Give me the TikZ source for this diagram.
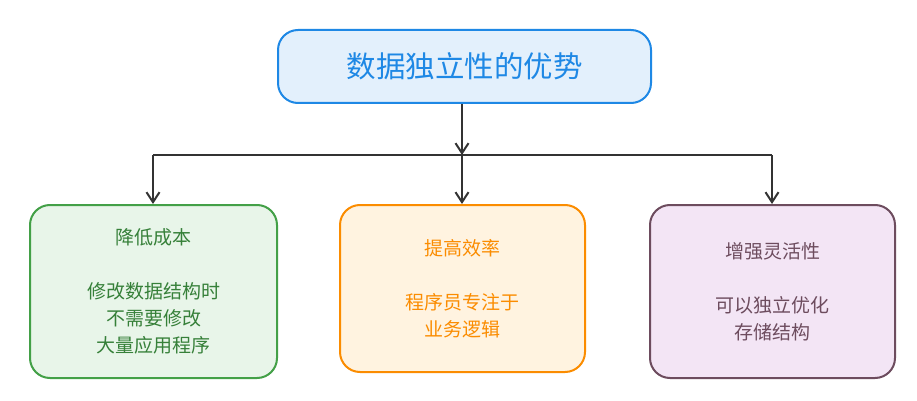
\documentclass[tikz,border=0pt]{standalone}
\usepackage{fontspec}
\setmainfont{Noto Sans CJK SC}
\usetikzlibrary{arrows.meta}
\definecolor{bb}{HTML}{1E88E5}\definecolor{bf}{HTML}{E3F0FC}
\definecolor{gb}{HTML}{43A047}\definecolor{gf}{HTML}{E8F5E9}
\definecolor{ob}{HTML}{FB8C00}\definecolor{of}{HTML}{FFF3E0}
\definecolor{pb}{HTML}{6D4C5E}\definecolor{pf}{HTML}{F3E5F5}
\begin{document}
\begin{tikzpicture}[x=1pt,y=-1pt,
 box/.style={draw,line width=2pt,rounded corners=20pt,align=center,inner sep=0pt,font=\fontsize{19}{27}\selectfont},
 arr/.style={-{Straight Barb[length=10pt,width=13pt]},line width=2pt,draw=black!80}]
\useasboundingbox[fill=white] (0,0) rectangle (917,401);
\node[box,draw=bb,fill=bf,text=bb,minimum width=373pt,minimum height=73pt,font=\fontsize{29.5}{34}\selectfont] (top) at (464.5,66.5) {数据独立性的优势};
\node[box,draw=gb,fill=gf,text=gb!80!black,minimum width=247pt,minimum height=173pt] (l) at (153.5,291.5) {降低成本\\[27pt]修改数据结构时\\不需要修改\\大量应用程序};
\node[box,draw=ob,fill=of,text=ob,minimum width=245pt,minimum height=167pt] (m) at (462.5,288.5) {提高效率\\[27pt]程序员专注于\\业务逻辑};
\node[box,draw=pb,fill=pf,text=pb,minimum width=245pt,minimum height=173pt] (r) at (772.5,291.5) {增强灵活性\\[27pt]可以独立优化\\存储结构};
\coordinate (j) at (462,155);
\coordinate (jl) at (153,155);
\coordinate (jr) at (772,155);
\draw[arr] (top.south -| j) -- (j);
\draw[line width=2pt,draw=black!80] (jl) -- (jr);
\draw[arr] (jl) -- (jl |- l.north);
\draw[arr] (j) -- (j |- m.north);
\draw[arr] (jr) -- (jr |- r.north);
\end{tikzpicture}
\end{document}
